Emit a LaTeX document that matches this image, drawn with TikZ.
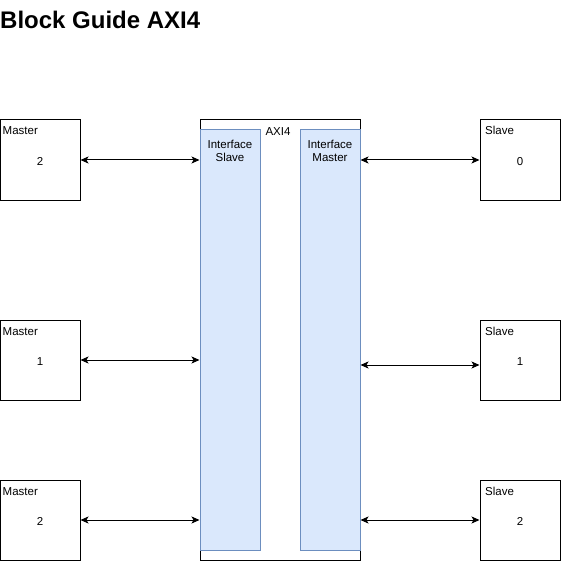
\documentclass[tikz,border=0pt]{standalone}
\usepackage{fontspec}
\setmainfont{Liberation Sans}
\usetikzlibrary{arrows.meta, positioning}
\definecolor{ifacefill}{HTML}{DAE8FC}
\definecolor{ifaceline}{HTML}{6C8EBF}

\begin{document}
\begin{tikzpicture}[x=1pt,y=-1pt,
    txt/.style={inner sep=0pt,font=\fontsize{11.5}{13.5}\selectfont},
    box/.style={draw,line width=1pt,minimum width=80pt,minimum height=80pt,inner sep=0pt,text height=10.5pt,font=\fontsize{11.5}{13.5}\selectfont},
    iface/.style={draw=ifaceline,fill=ifacefill,line width=1pt,minimum width=60pt,minimum height=420pt,inner sep=0pt},
    link/.style={line width=1pt,{Stealth[length=8pt,width=7pt,inset=2pt]}-{Stealth[length=8pt,width=7pt,inset=2pt]}}]
  \useasboundingbox (0,0) rectangle (561,561);

  \node[inner sep=0pt,anchor=base west,font=\bfseries\fontsize{24}{28}\selectfont] (title) at (0,28.5) {Block Guide AXI4};

  % the AXI4 block
  \node[draw,line width=1pt,minimum width=160pt,minimum height=440pt] (axi) at (280,340) {};
  \node[txt,anchor=base] (axil) at (278,135.5) {AXI4};
  \node[iface] (is) at (230,340) {};
  \node[iface] (im) at (330,340) {};
  \node[txt,align=center,below=10pt of is.north] (isl) {Interface\\Slave};
  \node[txt,align=center,below=10pt of im.north] (iml) {Interface\\Master};

  % masters
  \begin{scope}[every node/.style={box}]
    \node (ma) at (40,160) {2};
    \node (mb) at (40,360) {1};
    \node (mc) at (40,520) {2};
  \end{scope}
  \begin{scope}[every node/.style={txt,anchor=base west}]
    \node (mal) at (2.5,135) {Master};
    \node (mbl) at (2.5,335) {Master};
    \node (mcl) at (2.5,495) {Master};
  \end{scope}

  % slaves
  \begin{scope}[every node/.style={box}]
    \node (sa) at (520,160) {0};
    \node (sb) at (520,360) {1};
    \node (sc) at (520,520) {2};
  \end{scope}
  \begin{scope}[every node/.style={txt,anchor=base west}]
    \node (sal) at (485,135) {Slave};
    \node (sbl) at (485,335) {Slave};
    \node (scl) at (485,495) {Slave};
  \end{scope}

  \begin{scope}[every edge/.style={draw,link}]
    \path (ma) edge (ma -| is.west);
    \path (mb) edge (mb -| is.west);
    \path (mc) edge (mc -| is.west);
    \path (sa -| im.east) edge (sa);
    \path ([yshift=-5pt]sb.west -| im.east) edge ([yshift=-5pt]sb.west);
    \path (sc -| im.east) edge (sc);
  \end{scope}
\end{tikzpicture}
\end{document}
